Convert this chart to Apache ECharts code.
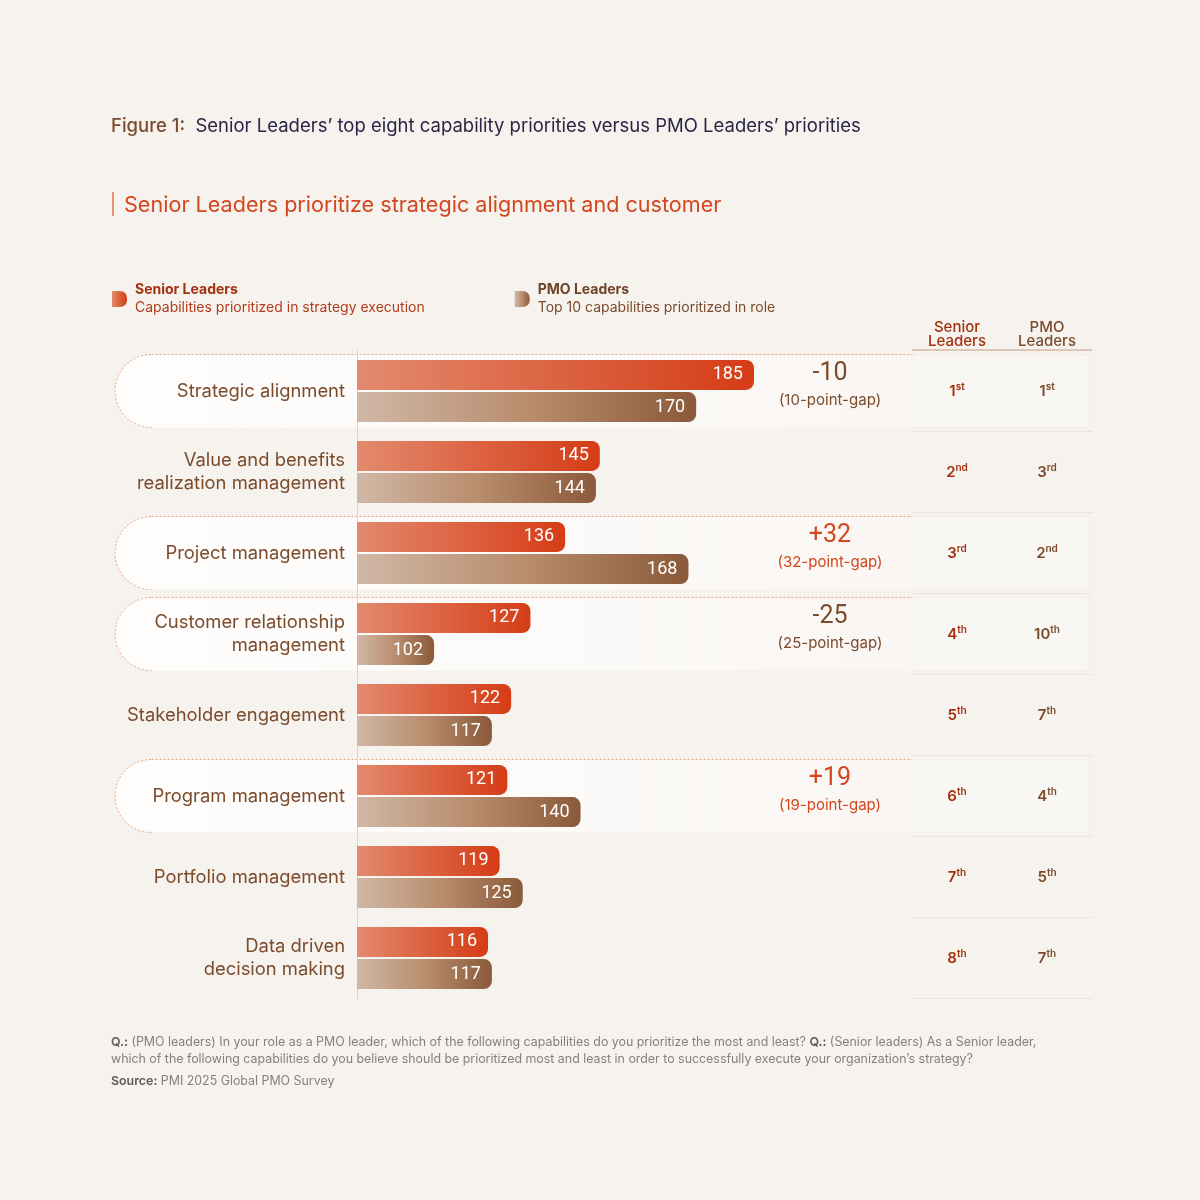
<!DOCTYPE html>
<html>
<head>
<meta charset="utf-8">
<script src="https://cdn.jsdelivr.net/npm/echarts@6.0.0/dist/echarts.min.js"></script>
<style>
  html, body { margin: 0; padding: 0; background: #f6f3ef; }
  #chart { width: 1200px; height: 1200px; }
</style>
</head>
<body>
<div id="chart"></div>
<script>
// ---- data ----
const categories = [
    'Strategic alignment',
    'Value and benefits\nrealization management',
    'Project management',
    'Customer relationship\nmanagement',
    'Stakeholder engagement',
    'Program management',
    'Portfolio management',
    'Data driven\ndecision making'
];
const seniorValues = [185, 145, 136, 127, 122, 121, 119, 116];
const pmoValues    = [170, 144, 168, 102, 117, 140, 125, 117];
const seniorRanks  = [1, 2, 3, 4, 5, 6, 7, 8];
const pmoRanks     = [1, 3, 2, 10, 7, 4, 5, 7];
const gapValues    = [-10, null, 32, -25, null, 19, null, null];
const highlightRows = [0, 2, 3, 5];

const FONT = 'Inter';
const RED = '#d4461e';
const BROWN = '#7b4b2c';
const BG = '#f6f3ef';

function ordinal(n) {
    if (n % 100 >= 11 && n % 100 <= 13) return 'th';
    return ({1: 'st', 2: 'nd', 3: 'rd'})[n % 10] || 'th';
}

const redGrad = new echarts.graphic.LinearGradient(0, 0, 1, 0, [
    {offset: 0, color: '#e38a6e'},
    {offset: 1, color: '#d53c16'}
]);
const brownGrad = new echarts.graphic.LinearGradient(0, 0, 1, 0, [
    {offset: 0, color: '#d0b8a6'},
    {offset: 0.5, color: '#b98d6e'},
    {offset: 1, color: '#8a5a3a'}
]);

const rankAxis = function(ranks, offset, color, name) {
    return {
        type: 'category',
        data: categories,
        inverse: true,
        position: 'right',
        offset: offset,
        axisLine: {show: false},
        axisTick: {show: false},
        axisLabel: {
            margin: 0,
            align: 'center',
            formatter: (v, i) => '{n|' + ranks[i] + '}{s|' + ordinal(ranks[i]) + '}',
            rich: {
                n: {fontFamily: FONT, fontSize: 15, fontWeight: 600, color: color},
                s: {fontFamily: FONT, fontSize: 10, fontWeight: 600, color: color, padding: [0, 0, 8, 0]}
            }
        },
        name: name,
        nameLocation: 'start',
        nameGap: 2,
        nameTextStyle: {
            fontFamily: FONT, fontSize: 15, fontWeight: 500, color: color,
            lineHeight: 14, align: 'center'
        }
    };
};

const chart = echarts.init(document.getElementById('chart'));

const option = {
    backgroundColor: BG,
    animation: false,
    title: [
        {
            left: 111, top: 117, padding: 0,
            text: '{a|Figure 1:}{b|  Senior Leaders’ top eight capability priorities versus PMO Leaders’ priorities}',
            textStyle: {
                fontWeight: 'normal',
                rich: {
                    a: {fontFamily: FONT, fontSize: 18.5, fontWeight: 500, color: '#7b4b2c'},
                    b: {fontFamily: FONT, fontSize: 18.5, fontWeight: 'normal', color: '#2b2545'}
                }
            }
        },
        {
            left: 124, top: 194, padding: 0,
            text: 'Senior Leaders prioritize strategic alignment and customer',
            textStyle: {fontFamily: FONT, fontSize: 21.6, fontWeight: 'normal', color: RED}
        },
        {
            left: 111, top: 1034, padding: 0,
            text: '{b|Q.:} (PMO leaders) In your role as a PMO leader, which of the following capabilities do you prioritize the most and least? {b|Q.:} (Senior leaders) As a Senior leader,\nwhich of the following capabilities do you believe should be prioritized most and least in order to successfully execute your organization’s strategy?',
            textStyle: {
                fontFamily: FONT, fontSize: 12.4, fontWeight: 'normal', color: '#85807b', lineHeight: 17,
                rich: {b: {fontFamily: FONT, fontSize: 12.4, fontWeight: 600, color: '#5e5955', lineHeight: 17}}
            }
        },
        {
            left: 111, top: 1075, padding: 0,
            text: '{b|Source:} PMI 2025 Global PMO Survey',
            textStyle: {
                fontFamily: FONT, fontSize: 12.4, fontWeight: 'normal', color: '#85807b',
                rich: {b: {fontFamily: FONT, fontSize: 12.4, fontWeight: 600, color: '#5e5955'}}
            }
        }
    ],
    legend: {
        left: 112, top: 283, padding: 0,
        orient: 'horizontal',
        itemWidth: 15, itemHeight: 17,
        itemGap: 90,
        icon: 'path://M0,0 H8 Q16,0 16,8 V9 Q16,17 8,17 H0 Z',
        selectedMode: false,
        formatter: function(name) {
            if (name === 'Senior Leaders') {
                return '{sb|Senior Leaders}\n{sd|Capabilities prioritized in strategy execution}';
            }
            return '{pb|PMO Leaders}\n{pd|Top 10 capabilities prioritized in role}';
        },
        textStyle: {
            padding: [0, 0, 0, 3],
            rich: {
                sb: {fontFamily: FONT, fontSize: 14, fontWeight: 700, color: '#a3300f', lineHeight: 18},
                sd: {fontFamily: FONT, fontSize: 14, color: '#b23c1a', lineHeight: 18},
                pb: {fontFamily: FONT, fontSize: 14, fontWeight: 700, color: '#6e4328', lineHeight: 18},
                pd: {fontFamily: FONT, fontSize: 14, color: '#7b4b2c', lineHeight: 18}
            }
        },
        data: ['Senior Leaders', 'PMO Leaders']
    },
    grid: {
        left: 357, right: 288, top: 350.5, bottom: 201.5,
        outerBoundsMode: 'none'
    },
    xAxis: {
        type: 'value',
        min: 82,
        max: 226,
        show: false
    },
    yAxis: [
        {
            type: 'category',
            data: categories,
            inverse: true,
            axisLine: {lineStyle: {color: '#dcd3cb', width: 1}},
            axisTick: {show: false},
            axisLabel: {
                margin: 12,
                fontFamily: FONT,
                fontSize: 18.4,
                lineHeight: 23,
                color: BROWN,
                align: 'right'
            }
        },
        rankAxis(seniorRanks, 45, '#a3300f', 'Senior\nLeaders'),
        rankAxis(pmoRanks, 135, '#7b4b2c', 'PMO\nLeaders'),
        {
            type: 'category',
            data: categories,
            inverse: true,
            position: 'right',
            offset: -82,
            axisLine: {show: false},
            axisTick: {show: false},
            axisLabel: {
                margin: 0,
                align: 'center',
                padding: [0, 0, 8, 0],
                formatter: function(v, i) {
                    const g = gapValues[i];
                    if (g === null) return '';
                    const k = g > 0 ? 'p' : 'm';
                    return '{' + k + 'n|' + (g > 0 ? '+' + g : '-' + Math.abs(g)) + '}\n{' + k + 's|(' + Math.abs(g) + '-point-gap)}';
                },
                rich: {
                    pn: {fontFamily: 'Roboto', fontSize: 25, color: RED, lineHeight: 26},
                    ps: {fontFamily: FONT, fontSize: 15, color: RED, lineHeight: 26},
                    mn: {fontFamily: 'Roboto', fontSize: 25, color: BROWN, lineHeight: 26},
                    ms: {fontFamily: FONT, fontSize: 15, color: BROWN, lineHeight: 26}
                }
            }
        }
    ],
    series: [
        {
            name: 'Senior Leaders',
            type: 'bar',
            barWidth: 30,
            barGap: '7%',
            z: 3,
            itemStyle: {color: redGrad, borderRadius: [0, 8, 8, 0]},
            label: {
                show: true, position: 'insideRight', distance: 11,
                color: '#fff', fontFamily: 'Roboto', fontSize: 18
            },
            data: seniorValues
        },
        {
            name: 'PMO Leaders',
            type: 'bar',
            barWidth: 30,
            z: 3,
            itemStyle: {color: brownGrad, borderRadius: [0, 8, 8, 0]},
            label: {
                show: true, position: 'insideRight', distance: 11,
                color: '#fff', fontFamily: 'Roboto', fontSize: 18
            },
            data: pmoValues
        }
    ]
};

chart.setOption(option);

// ---- decorations: highlight bands, table lines ----
const graphics = [];
const tableL = 912, tableR = 1092;
const step = chart.convertToPixel({yAxisIndex: 0}, categories[1]) - chart.convertToPixel({yAxisIndex: 0}, categories[0]);

graphics.push({
    type: 'line', z: -5,
    shape: {x1: tableL, y1: 350, x2: tableR, y2: 350},
    style: {stroke: '#c49a80', lineWidth: 1}
});
categories.forEach(function(c, i) {
    const cy = chart.convertToPixel({yAxisIndex: 0}, c);
    graphics.push({
        type: 'line', z: -5,
        shape: {x1: tableL, y1: cy + step / 2, x2: tableR, y2: cy + step / 2},
        style: {stroke: '#ebe4dd', lineWidth: 1}
    });
});
highlightRows.forEach(function(i) {
    const cy = chart.convertToPixel({yAxisIndex: 0}, categories[i]);
    const top = cy - 36.5, bot = cy + 36.5, r = 36.5;
    const x0 = 115;
    graphics.push({
        type: 'rect', z: -8,
        shape: {x: x0, y: top, width: tableL - x0, height: bot - top, r: [r, 0, 0, r]},
        style: {
            fill: new echarts.graphic.LinearGradient(0, 0, 1, 0, [
                {offset: 0, color: '#fefdfc'},
                {offset: 0.6, color: '#fcfaf8'},
                {offset: 1, color: '#f9f6f3'}
            ])
        }
    });
    graphics.push({
        type: 'rect', z: -8,
        shape: {x: tableL, y: top, width: 176, height: bot - top},
        style: {fill: '#f9f7f4', stroke: '#eee6df', lineWidth: 1, lineDash: [2, 2]}
    });
    graphics.push({
        type: 'arc', z: -4,
        shape: {cx: x0 + r, cy: cy, r: r, startAngle: Math.PI / 2, endAngle: Math.PI * 1.5, clockwise: true},
        style: {fill: null, stroke: '#efa27f', lineWidth: 1, lineDash: [2, 2]}
    });
    graphics.push({
        type: 'line', z: -4,
        shape: {x1: x0 + r, y1: top, x2: tableL, y2: top},
        style: {stroke: '#efa27f', lineWidth: 1, lineDash: [2, 2]}
    });
});
graphics.push({
    type: 'rect', z: 1,
    shape: {x: 112, y: 192, width: 2, height: 24},
    style: {fill: '#e8956f'}
});

chart.setOption({graphic: graphics});
</script>
</body>
</html>
